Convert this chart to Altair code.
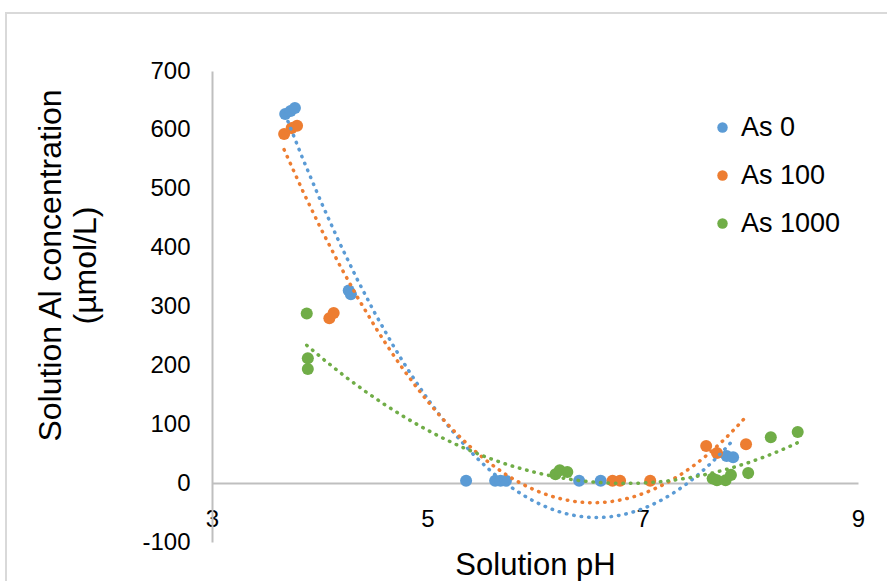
import altair as alt
import pandas as pd

# Series names and Excel-style colours
series_names = ["As 0", "As 100", "As 1000"]
series_colors = ["#5B9BD5", "#ED7D31", "#70AD47"]

# As 0
ph_as0 = [3.68, 3.73, 3.77, 4.27, 4.29, 5.36, 5.63, 5.68, 5.73, 6.41, 6.61, 7.78, 7.84]
al_as0 = [627, 632, 637, 327, 321, 4, 4, 4, 4, 4, 4, 46, 44]

# As 100
ph_as100 = [3.67, 3.74, 3.79, 4.09, 4.13, 6.72, 6.79, 7.07, 7.59, 7.69, 7.96]
al_as100 = [593, 603, 607, 280, 289, 4, 4, 4, 63, 51, 66]

# As 1000
ph_as1000 = [3.88, 3.89, 3.89, 6.19, 6.23, 6.30, 7.65, 7.69, 7.77, 7.82, 7.98, 8.19, 8.44]
al_as1000 = [288, 212, 194, 15, 22, 19, 8, 5, 5, 14, 17, 78, 87]

x_ticks = [3, 5, 7, 9]
y_ticks = [-100, 0, 100, 200, 300, 400, 500, 600, 700]

rows = []
for name, phs, als in [("As 0", ph_as0, al_as0),
                       ("As 100", ph_as100, al_as100),
                       ("As 1000", ph_as1000, al_as1000)]:
    for p, a in zip(phs, als):
        rows.append({"series": name, "pH": p, "Al": a})
df = pd.DataFrame(rows)

FONT = "Liberation Sans"

x_enc = alt.X(
    "pH:Q",
    scale=alt.Scale(domain=[3, 9], nice=False, zero=False),
    axis=alt.Axis(
        values=x_ticks, title="Solution pH", offset=-59,
        grid=False, ticks=False, domainColor="#BFBFBF", domainWidth=2,
        labelFont=FONT, labelFontSize=24, labelColor="#000000", labelPadding=24,
        labelFlush=False, labelExpr="'' + datum.value",
        titleFont=FONT, titleFontSize=31, titleFontWeight="normal",
        titleColor="#000000", titlePadding=19,
    ),
)
y_enc = alt.Y(
    "Al:Q",
    scale=alt.Scale(domain=[-100, 700], nice=False),
    axis=alt.Axis(
        values=y_ticks, title=["Solution Al concentration", "(µmol/L)"],
        grid=False, ticks=False, domainColor="#BFBFBF", domainWidth=2,
        labelFont=FONT, labelFontSize=24, labelColor="#000000", labelPadding=22,
        labelFlush=False, labelExpr="'' + datum.value",
        titleFont=FONT, titleFontSize=32, titleFontWeight="normal",
        titleColor="#000000", titleAngle=-90, titleX=-162, titleY=194,
        titleAlign="center", titleBaseline="middle", titleLineHeight=35,
    ),
)
color_scale = alt.Scale(domain=series_names, range=series_colors)

points = alt.Chart(df).mark_circle(size=145, opacity=1).encode(
    x=x_enc,
    y=y_enc,
    color=alt.Color(
        "series:N", scale=color_scale, sort=series_names,
        legend=alt.Legend(
            orient="none", legendX=497, legendY=43, title=None,
            symbolType="circle", symbolSize=110, symbolStrokeWidth=0,
            labelFont=FONT, labelFontSize=27, labelColor="#000000",
            labelOffset=5, rowPadding=20,
        ),
    ),
)

# Second-order polynomial trend line per series, dotted
trends = alt.Chart(df).transform_regression(
    "pH", "Al", groupby=["series"], method="poly", order=2
).mark_line(strokeDash=[0.5, 7], strokeCap="round", strokeWidth=3.5).encode(
    x=alt.X("pH:Q"),
    y=alt.Y("Al:Q"),
    color=alt.Color("series:N", scale=color_scale, legend=None),
)

# Outer chart-area border
frame = alt.Chart(df).mark_rect(
    fill=None, stroke="#D9D9D9", strokeWidth=1.5, clip=False
).encode(
    x=alt.value(-206), x2=alt.value(700), y=alt.value(-58), y2=alt.value(540)
)

chart = alt.layer(frame, points, trends).properties(
    width=646, height=471,
    autosize=alt.AutoSizeParams(type="none"),
    padding={"left": 212, "top": 71, "right": 29, "bottom": 39},
    background="white",
).configure_view(stroke=None)

chart.save("out.html", embed_options={"renderer": "svg", "actions": False})
